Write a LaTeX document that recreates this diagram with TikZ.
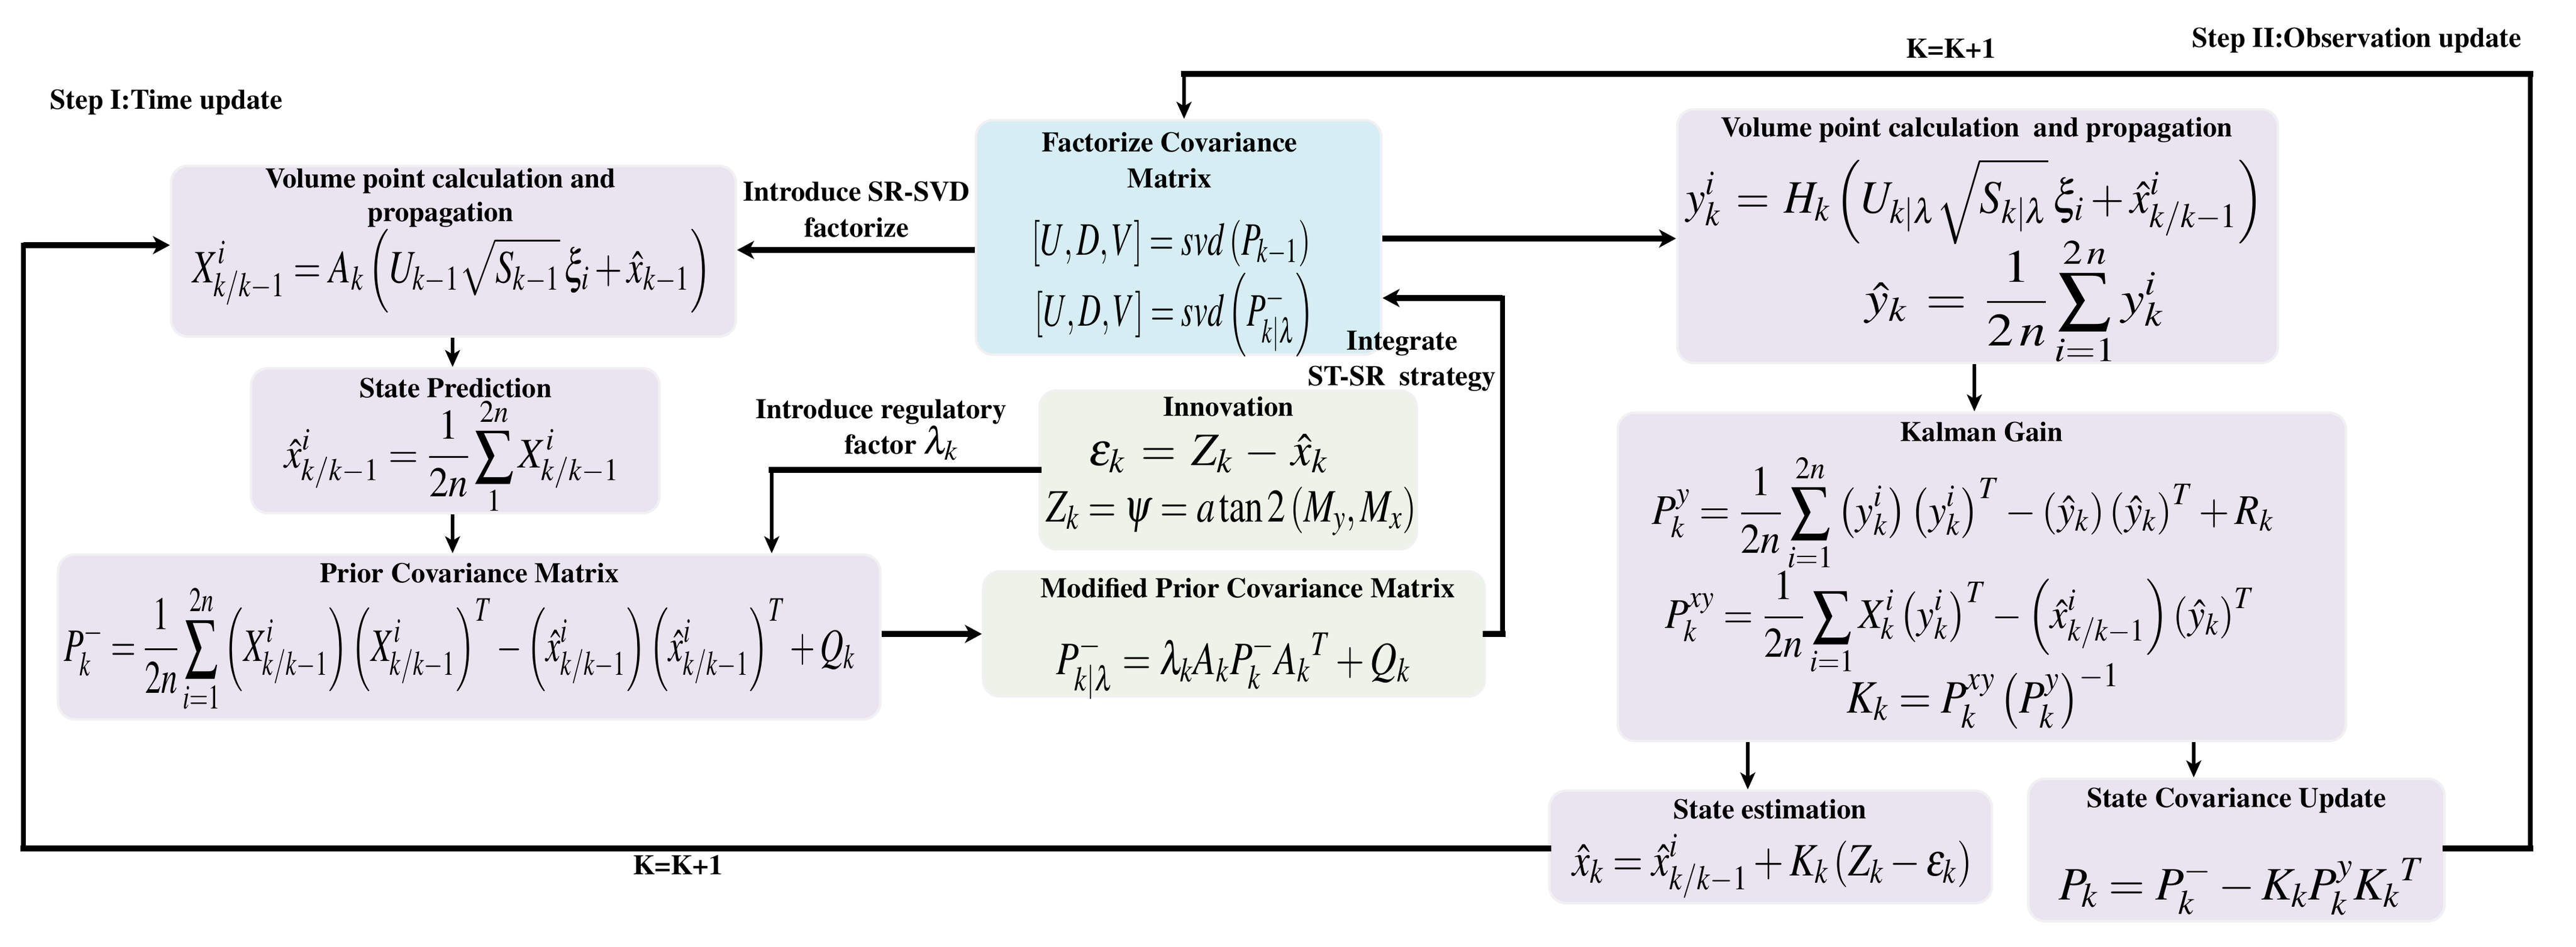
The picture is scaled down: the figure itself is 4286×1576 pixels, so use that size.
\documentclass[tikz,border=0pt]{standalone}
\usepackage[T1]{fontenc}
\usepackage{amsmath}
\usepackage{mathptmx}
\usepackage{graphicx}
\usetikzlibrary{arrows.meta}
\definecolor{lav}{RGB}{233,228,240}
\definecolor{lblue}{RGB}{213,237,243}
\definecolor{lgreen}{RGB}{237,243,232}
\definecolor{halo}{RGB}{241,240,243}
\newcommand\fitw[2]{\resizebox{#1}{\height}{$\displaystyle #2$}}
\tikzset{
  panel/.style={draw=halo, line width=1.2pt, rounded corners=0.28cm, inner sep=0pt},
  lavbox/.style={panel, fill=lav},
  bluebox/.style={panel, fill=lblue},
  greenbox/.style={panel, fill=lgreen},
  ttl/.style={font=\fontsize{13.3}{16}\selectfont\bfseries, inner sep=0pt, anchor=base},
  eq/.style={font=\fontsize{22}{26}\selectfont, inner sep=0pt, anchor=base},
  eqs/.style={font=\fontsize{20}{24}\selectfont, inner sep=0pt, anchor=base},
  hline/.style={line width=2.9pt, line cap=rect},
  vline/.style={line width=2.2pt, line cap=rect},
  harrow/.style={line width=2.9pt, -{Stealth[length=8pt,width=8.5pt,inset=2.2pt]}},
  varrow/.style={line width=1.8pt, -{Stealth[length=8pt,width=7pt,inset=2pt]}},
}
\begin{document}
\begin{tikzpicture}[x=0.01cm,y=-0.01cm]
\useasboundingbox (0,0) rectangle (4286,1576);
% ---------- boxes ----------
\node[lavbox, minimum width=9.39cm, minimum height=2.84cm] (b1) at (754.5,418) {};
\node[bluebox, minimum width=6.74cm, minimum height=3.90cm] (fac) at (1961,395) {};
\node[lavbox, minimum width=9.99cm, minimum height=4.22cm] (b2) at (3290.5,393) {};
\node[lavbox, minimum width=6.79cm, minimum height=2.41cm] (sp) at (757.5,733.5) {};
\node[greenbox, minimum width=6.27cm, minimum height=2.64cm] (inn) at (2043.5,782) {};
\node[lavbox, minimum width=13.67cm, minimum height=2.74cm] (pc) at (780.5,1060) {};
\node[greenbox, minimum width=8.34cm, minimum height=2.08cm] (mp) at (2053,1055) {};
\node[lavbox, minimum width=12.11cm, minimum height=5.46cm] (kg) at (3297.5,960) {};
\node[lavbox, minimum width=7.36cm, minimum height=1.87cm] (se) at (2946,1409.5) {};
\node[lavbox, minimum width=6.92cm, minimum height=2.37cm] (scu) at (3721,1414.5) {};
% ---------- free labels ----------
\node[ttl, anchor=base west] (s1) at (83,182) {Step I:Time update};
\node[ttl, anchor=base east] (s2) at (4196,79) {Step II:Observation update};
\node[ttl] (kt) at (3246,97) {K=K+1};
\node[ttl] (kb) at (1128,1455) {K=K+1};
\node[ttl] (l1a) at (1425,334) {Introduce SR-SVD};
\node[ttl] (l1b) at (1425,395) {factorize};
\node[ttl] (l2a) at (1466,696) {Introduce regulatory};
\node[ttl] (l2b) at (1500,755) {factor \fontsize{18}{20}\selectfont$\lambda_{k}$};
\node[ttl] (l3a) at (2333,582) {Integrate};
\node[ttl] (l3b) at (2333,641) {ST-SR\ \ strategy};
% ---------- titles ----------
\node[ttl] (t1a) at (733,313) {Volume point calculation and};
\node[ttl] (t1b) at (733,368) {propagation};
\node[ttl] (tfa) at (1946,253) {Factorize Covariance};
\node[ttl] (tfb) at (1946,313) {Matrix};
\node[ttl] (t2) at (3289,228) {Volume point calculation\ \ and propagation};
\node[ttl] (tsp) at (758,661) {State Prediction};
\node[ttl] (tin) at (2044,692) {Innovation};
\node[ttl] (tpc) at (781,969) {Prior Covariance Matrix};
\node[ttl] (tmp) at (2076,994) {Modified Prior Covariance Matrix};
\node[ttl] (tkg) at (3297,734) {Kalman Gain};
\node[ttl] (tse) at (2945,1362) {State estimation};
\node[ttl] (tsc) at (3721,1343) {State Covariance Update};
% ---------- equations ----------
\node[eq] (e1) at (752,470) {\fitw{8.63cm}{X^{i}_{k/k-1}=A_k\left(U_{k-1}\sqrt{S_{k-1}}\,\xi_i+\hat{x}_{k-1}\right)}};
\node[eq] (ef1) at (1949,424) {\fitw{4.64cm}{\left[U,D,V\right]=svd\left(P_{k-1}\right)}};
\node[eq] (ef2) at (1954,543) {\fitw{4.64cm}{\left[U,D,V\right]=svd\left(P^{-}_{k|\lambda}\right)}};
\node[eq] (e2a) at (3286,355) {\fitw{9.61cm}{y^{i}_{k}\,=\,H_k\left(U_{k|\lambda}\sqrt{S_{k|\lambda}}\,\xi_i+\hat{x}^{i}_{k/k-1}\right)}};
\node[eq] (e2b) at (3352,522) {\fitw{4.96cm}{\hat{y}_k\,=\,\frac{1}{2\,n}\sum_{i=1}^{2\,n} y^{i}_{k}}};
\node[eqs] (esp) at (752,778) {\fitw{5.57cm}{\hat{x}^{i}_{k/k-1}=\frac{1}{2n}\sum_{1}^{2n}X^{i}_{k/k-1}}};
\node[eq] (ei1) at (2011,774) {\fitw{3.98cm}{\varepsilon_{k}\,=\,Z_{k}\,-\,\hat{x}_{k}}};
\node[eq] (ei2) at (2049,868) {\fitw{6.16cm}{Z_k=\psi=a\tan 2\left(M_y,M_x\right)}};
\node[eq] (epc) at (765,1100) {\fitw{13.16cm}{P^{-}_{k}=\frac{1}{2n}\sum_{i=1}^{2n}\left(X^{i}_{k/k-1}\right)\left(X^{i}_{k/k-1}\right)^{T}-\left(\hat{x}^{i}_{k/k-1}\right)\left(\hat{x}^{i}_{k/k-1}\right)^{T}+Q_k}};
\node[eq] (emp) at (2052,1122) {\fitw{5.89cm}{P^{-}_{k|\lambda}=\lambda_k A_k P^{-}_{k} A_k{}^{T}+Q_k}};
\node[eqs] (ek1) at (3266,872) {\fitw{10.34cm}{P^{y}_{k}=\frac{1}{2n}\sum_{i=1}^{2n}\left(y^{i}_{k}\right)\left(y^{i}_{k}\right)^{T}-\left(\hat{y}_{k}\right)\left(\hat{y}_{k}\right)^{T}+R_k}};
\node[eqs] (ek2) at (3261,1045) {\fitw{9.81cm}{P^{xy}_{k}=\frac{1}{2n}\sum_{i=1}X^{i}_{k}\left(y^{i}_{k}\right)^{T}-\left(\hat{x}^{i}_{k/k-1}\right)\left(\hat{y}_{k}\right)^{T}}};
\node[eq] (ek3) at (3300,1186) {\fitw{4.54cm}{K_k=P^{xy}_{k}\left(P^{y}_{k}\right)^{-1}}};
\node[eq] (ese) at (2949,1457) {\fitw{6.65cm}{\hat{x}_k=\hat{x}^{i}_{k/k-1}+K_k\left(Z_k-\varepsilon_k\right)}};
\node[eq] (esc) at (3730,1497) {\fitw{6.09cm}{P_k=P^{-}_{k}-K_kP^{y}_{k}K_k{}^{T}}};
% ---------- junction coordinates ----------
\coordinate (ja) at (1607,416);
\coordinate (jb) at (2300,397);
\coordinate (t1) at (4210,1412);
\coordinate (t2) at (4210,123);
\coordinate (t3) at (1970,123);
\coordinate (q1) at (39,1412);
\coordinate (q2) at (39,408);
\coordinate (r1) at (1284,782);
\coordinate (i1) at (2500,1055);
\coordinate (i2) at (2500,496);
\coordinate (d1) at (3285,0);
\coordinate (d2) at (2908,0);
\coordinate (d3) at (3650,0);
\coordinate (d4) at (753,0);
% ---------- connectors ----------
\draw[harrow] (fac.west |- ja) -- (b1.east |- ja);
\draw[harrow] (fac.east |- jb) -- (b2.west |- jb);
\draw[hline] (scu.east |- t1) -- (t1);
\draw[vline] (t1) -- (t2);
\draw[hline] (t2) -- (t3);
\draw[varrow] (t3) -- (fac.north -| t3);
\draw[varrow] (b2.south -| d1) -- (kg.north -| d1);
\draw[varrow] (kg.south -| d2) -- (se.north -| d2);
\draw[varrow] (kg.south -| d3) -- (scu.north -| d3);
\draw[hline] (se.west |- q1) -- (q1);
\draw[vline] (q1) -- (q2);
\draw[harrow] (q2) -- (b1.west |- q2);
\draw[varrow] (b1.south -| d4) -- (sp.north -| d4);
\draw[varrow] (sp.south -| d4) -- (pc.north -| d4);
\draw[hline] (inn.west |- r1) -- (r1);
\draw[varrow] (r1) -- (pc.north -| r1);
\draw[harrow] (pc.east |- i1) -- (mp.west |- i1);
\draw[hline] (mp.east |- i1) -- (i1);
\draw[vline] (i1) -- (i2);
\draw[harrow] (i2) -- (fac.east |- i2);
\end{tikzpicture}
\end{document}
